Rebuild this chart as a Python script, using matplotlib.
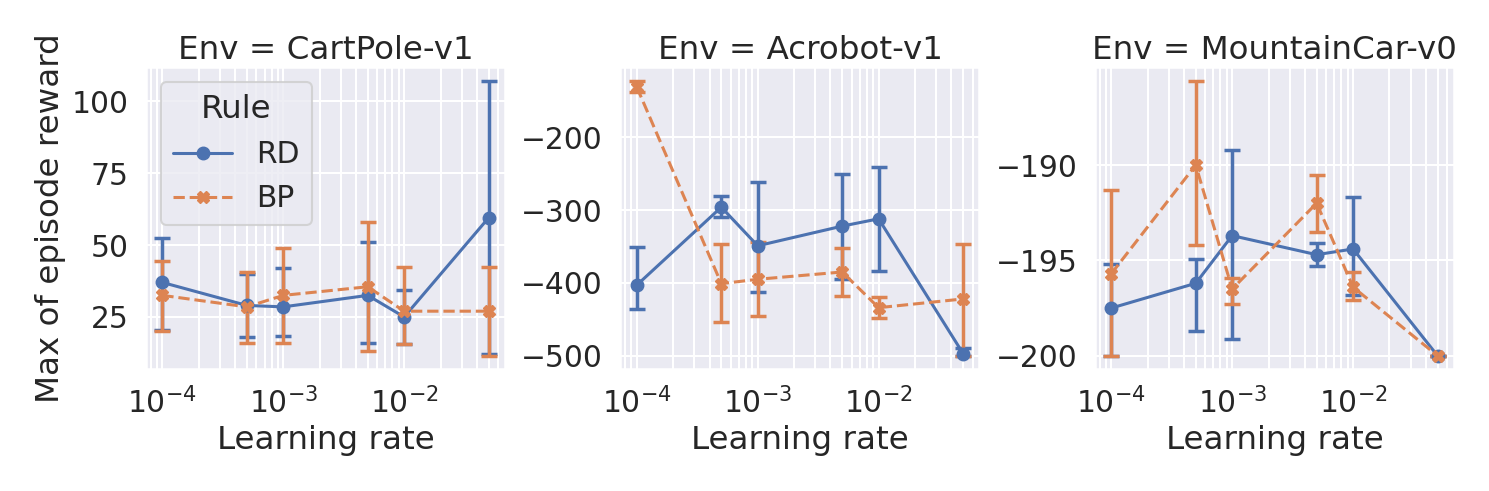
import matplotlib
matplotlib.use('Agg')
import matplotlib.pyplot as plt
from matplotlib.lines import Line2D
import seaborn as sns
import numpy as np

sns.set_theme(style="darkgrid", context="talk", font_scale=1.3)

envs = ["CartPole-v1", "Acrobot-v1", "MountainCar-v0"]
lrs = [1e-4, 5e-4, 1e-3, 5e-3, 1e-2, 5e-2]

rd_mean = [[37, 29, 28.5, 32.5, 25, 59.5],
           [-403, -296, -349, -322, -312, -497],
           [-197.5, -196.2, -193.7, -194.7, -194.4, -200]]
rd_lo = [[20.5, 18, 18.5, 16, 15.5, 12],
         [-436, -310, -413, -395, -383, -500],
         [-200, -198.7, -199.1, -195.3, -196.8, -200]]
rd_hi = [[52.5, 40, 42, 51, 34.5, 107],
         [-350, -281, -262, -251, -241, -490],
         [-195.2, -194.9, -189.2, -194.1, -191.7, -200]]

bp_mean = [[32.5, 28.5, 32.5, 35.5, 27, 27],
           [-131, -401, -395, -385, -434, -422],
           [-195.7, -190, -196.5, -192, -196.4, -200]]
bp_lo = [[20, 16, 16, 13, 15.5, 11.5],
         [-138, -453, -445, -418, -448, -500],
         [-200, -194.2, -197.3, -193.5, -197.1, -200]]
bp_hi = [[44.5, 40.5, 49, 58, 42.5, 42.5],
         [-123, -346, -344, -352, -420, -346],
         [-191.3, -185.6, -195.9, -190.5, -195.6, -200]]

pal = sns.color_palette()
fig, axes = plt.subplots(1, 3, figsize=(14.89, 4.91), dpi=100)
for i, ax in enumerate(axes):
    for mean, lo, hi, c, ls, mk in [
            (rd_mean[i], rd_lo[i], rd_hi[i], pal[0], '-', 'o'),
            (bp_mean[i], bp_lo[i], bp_hi[i], pal[1], '--', 'X')]:
        m = np.array(mean)
        err = [m - np.array(lo), np.array(hi) - m]
        ax.errorbar(lrs, m, yerr=err, color=c, ls=ls, marker=mk, markersize=9,
                    capsize=6, capthick=2.5, elinewidth=2.5, lw=2.2)
    ax.set_xscale('log')
    ax.set_title(f"Env = {envs[i]}")
    ax.set_xlabel("Learning rate")
    ax.grid(True, which='both')
axes[0].set_ylabel("Max of episode reward")
axes[1].set_yticks([-500, -400, -300, -200])
axes[2].set_yticks([-200, -195, -190])
handles = [Line2D([], [], color=pal[0], ls='-', marker='o', markersize=9, lw=2.2),
           Line2D([], [], color=pal[1], ls='--', marker='X', markersize=9, lw=2.2)]
axes[0].legend(handles, ["RD", "BP"], title="Rule", loc='upper left')
plt.tight_layout(w_pad=0.5)
fig.savefig("out.png")
